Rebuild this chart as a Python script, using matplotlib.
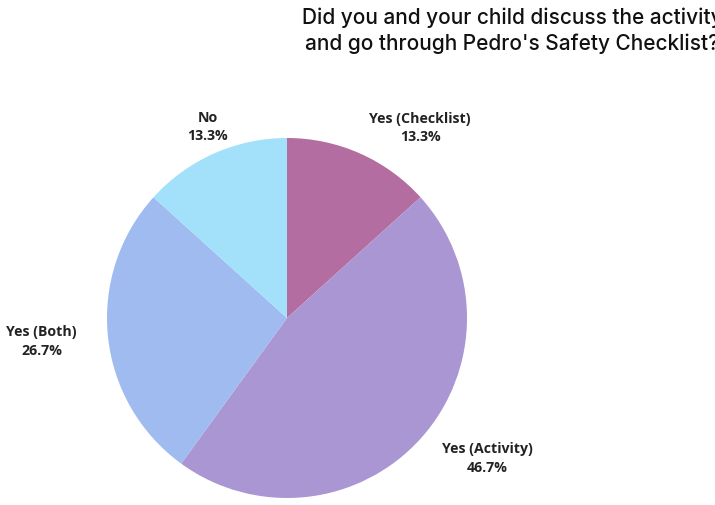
import matplotlib
matplotlib.use("Agg")
import matplotlib.pyplot as plt
import numpy as np

# survey answers
answers = ["Yes (Checklist)", "Yes (Activity)", "Yes (Both)", "No"]
shares = [13.3, 46.7, 26.7, 13.3]
slice_colors = ["#B36DA0", "#A996D2", "#A0BBF0", "#A3E1FB"]

TITLE = "Did you and your child discuss the activity\nand go through Pedro's Safety Checklist?"

# label placement (angle in degrees, distance in radii), tuned by eye
label_layout = [(55, 1.29), (-35, 1.36), (185.5, 1.37), (112.5, 1.15)]

W, H = 715, 505
fig = plt.figure(figsize=(W / 100, H / 100), dpi=100)
fig.patch.set_facecolor("white")

cx, cy, r = 287, 318, 180  # pie centre / radius in pixels
ax = fig.add_axes([(cx - r) / W, (H - cy - r) / H, 2 * r / W, 2 * r / H])

wedges, _ = ax.pie(shares, colors=slice_colors, startangle=90, counterclock=False,
                   radius=1, wedgeprops={"linewidth": 0})
ax.set_xlim(-1, 1)
ax.set_ylim(-1, 1)
ax.set_aspect("equal")
ax.axis("off")

for name, val, (ang, dist) in zip(answers, shares, label_layout):
    a = np.deg2rad(ang)
    ax.text(dist * np.cos(a), dist * np.sin(a), f"{name}\n{val:.1f}%",
            ha="center", va="center", fontsize=10.2, fontweight="bold",
            family="Open Sans", color="#222222", linespacing=1.4, clip_on=False)

fig.text(512 / W, 1 - 31 / H, TITLE, ha="center", va="center", fontsize=15,
         family="Inter", fontweight="medium", color="#111111", linespacing=1.35)

fig.savefig("out.png", dpi=100)
